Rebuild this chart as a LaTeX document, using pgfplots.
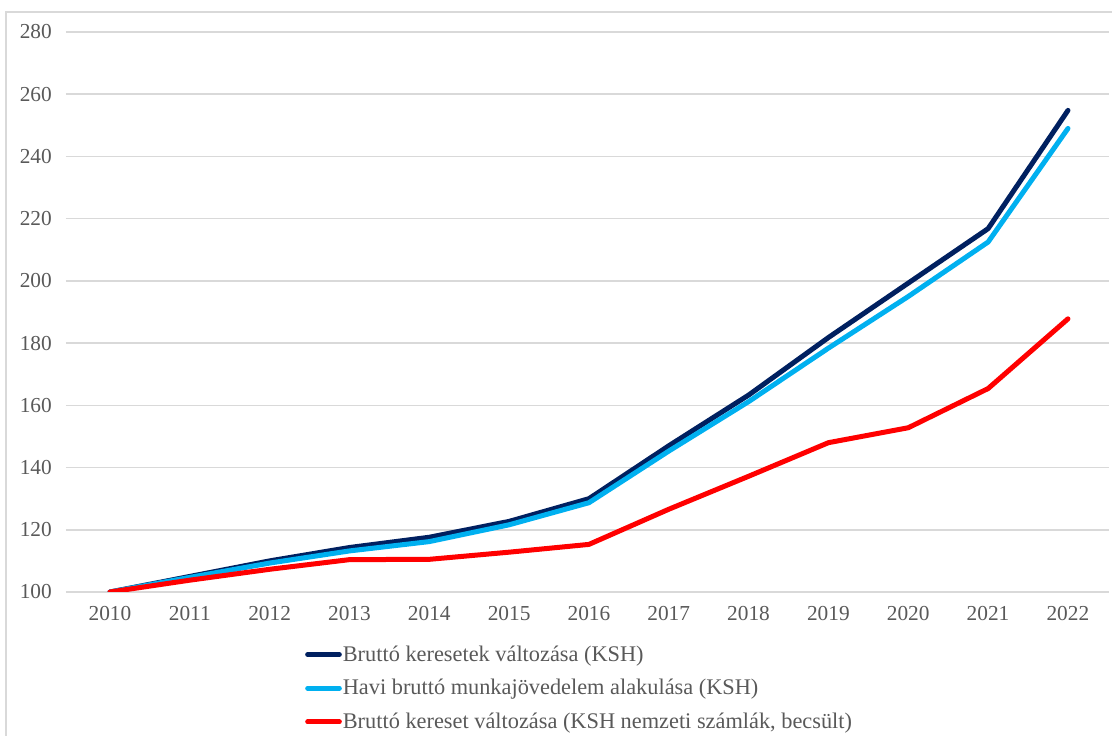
\documentclass[border=0pt]{standalone}
\usepackage{pgfplots}
\pgfplotsset{compat=1.18}
\usepackage{fontspec}
\setmainfont{Liberation Serif}
\definecolor{navyc}{HTML}{002060}
\definecolor{lblue}{HTML}{00B0F0}
\definecolor{redc}{HTML}{FF0000}
\definecolor{txt}{HTML}{595959}
\definecolor{gridc}{HTML}{D9D9D9}
\begin{document}
\begin{tikzpicture}
\path[use as bounding box] (0pt,0pt) rectangle (667.2pt,441.6pt);
\draw[gridc, line width=0.9pt] (3.6pt,-6pt) -- (3.6pt,434.4pt) -- (680pt,434.4pt);
\begin{axis}[
  at={(39.6pt,86.4pt)}, anchor=south west,
  scale only axis, width=625.8pt, height=336pt,
  xmin=2009.449, xmax=2022.514,
  ymin=100, ymax=280,
  xtick={2010,...,2022},
  ytick={100,120,...,280},
  axis line style={draw=none},
  major tick length=0pt,
  xmajorgrids=false, ymajorgrids=true,
  major grid style={draw=gridc, line width=0.9pt},
  tick label style={font=\fontsize{12.8}{15}\selectfont, text=txt},
  /pgf/number format/assume math mode=true,
  /pgf/number format/1000 sep={},
  yticklabel style={xshift=-5pt},
  xticklabel style={yshift=-5pt},
  legend style={at={(axis description cs:0.229,-0.092)}, anchor=north west, draw=none, fill=none,
    font=\fontsize{13.4}{16}\selectfont, text=txt, row sep=7.4pt, inner sep=0pt,
    nodes={inner xsep=0.6pt, inner ysep=1pt}},
  legend cell align=left,
  legend image code/.code={\draw[#1, line cap=round] (0pt,0pt) -- (19pt,0pt);},
  every axis plot/.append style={line width=3pt, line join=round, line cap=round},
]
\addplot[navyc] coordinates {(2010,100) (2011,105) (2012,110) (2013,114.3) (2014,117.6) (2015,122.7) (2016,130) (2017,147) (2018,163.3) (2019,181.8) (2020,199.3) (2021,216.8) (2022,254.8)};
\addlegendentry{Bruttó keresetek változása (KSH)}
\addplot[lblue] coordinates {(2010,100) (2011,104.7) (2012,109.3) (2013,113.2) (2014,116.2) (2015,121.6) (2016,128.7) (2017,145.3) (2018,161.2) (2019,178.4) (2020,195) (2021,212.5) (2022,249)};
\addlegendentry{Havi bruttó munkajövedelem alakulása (KSH)}
\addplot[redc] coordinates {(2010,100) (2011,103.8) (2012,107.3) (2013,110.4) (2014,110.5) (2015,112.8) (2016,115.3) (2017,126.6) (2018,137.2) (2019,148) (2020,152.8) (2021,165.4) (2022,187.8)};
\addlegendentry{Bruttó kereset változása (KSH nemzeti számlák, becsült)}
\end{axis}
\end{tikzpicture}
\end{document}
